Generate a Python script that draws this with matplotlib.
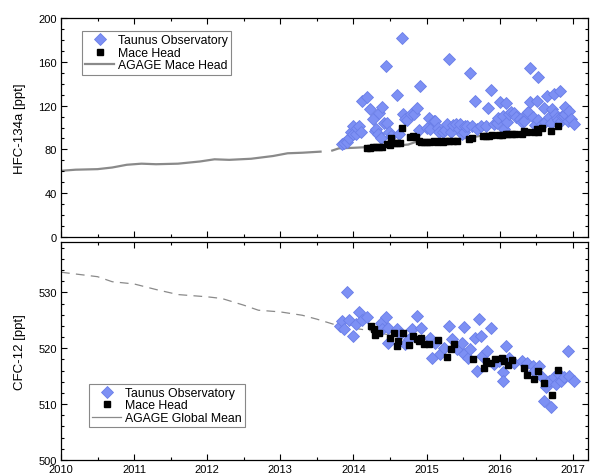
import matplotlib
matplotlib.use("Agg")
import matplotlib.pyplot as plt
from matplotlib.lines import Line2D
from matplotlib.ticker import MultipleLocator

plt.rcParams['font.family'] = ['Liberation Sans', 'DejaVu Sans']

# ---- HFC-134a ----
agage_mh_t1 = [2010.0, 2010.2, 2010.5, 2010.7, 2010.9, 2011.1, 2011.3, 2011.6, 2011.9,
               2012.1, 2012.3, 2012.6, 2012.9, 2013.1, 2013.3, 2013.55]
agage_mh_v1 = [60.5, 61.5, 62, 63.5, 66, 67, 66.5, 67, 69,
               71, 70.5, 71.5, 74, 76.5, 77, 78]
agage_mh_t2 = [2013.71, 2013.8, 2014.0, 2014.3, 2014.6, 2014.75, 2014.9, 2015.2,
               2015.5, 2015.75, 2016.0, 2016.2]
agage_mh_v2 = [79, 81, 81.5, 82.5, 83.5, 84.5, 88, 88.5, 90, 92.5, 93.5, 94.5]

taunus_hfc_t = [2013.85, 2013.87, 2013.91, 2013.94, 2013.96, 2014.0, 2014.0, 2014.03, 2014.05,
                2014.07, 2014.1, 2014.12, 2014.19, 2014.22, 2014.27, 2014.29, 2014.31, 2014.33,
                2014.35, 2014.37, 2014.39, 2014.42, 2014.45, 2014.46, 2014.48, 2014.52, 2014.59,
                2014.62, 2014.67, 2014.68, 2014.71, 2014.73, 2014.79, 2014.83, 2014.87, 2014.89,
                2014.91, 2015.0, 2015.04, 2015.05, 2015.1, 2015.12, 2015.15, 2015.17, 2015.22,
                2015.25, 2015.28, 2015.31, 2015.33, 2015.36, 2015.4, 2015.44, 2015.46, 2015.48,
                2015.51, 2015.53, 2015.55, 2015.6, 2015.62, 2015.66, 2015.69, 2015.75, 2015.81,
                2015.84, 2015.88, 2015.92, 2015.96, 2015.98, 2016.01, 2016.04, 2016.06, 2016.08,
                2016.1, 2016.13, 2016.15, 2016.2, 2016.22, 2016.28, 2016.31, 2016.33, 2016.37,
                2016.39, 2016.41, 2016.42, 2016.45, 2016.48, 2016.51, 2016.52, 2016.53, 2016.58,
                2016.6, 2016.62, 2016.65, 2016.68, 2016.7, 2016.72, 2016.74, 2016.76, 2016.79,
                2016.8, 2016.83, 2016.84, 2016.85, 2016.88, 2016.9, 2016.9, 2016.93, 2016.95,
                2016.97, 2017.02]
taunus_hfc = [85, 86, 86.5, 90, 95.6, 101.7, 94, 94, 100,
              101, 96, 124.5, 128, 117, 108, 97, 98.6, 94,
              113, 90, 118.4, 104, 156, 104, 95.6, 92.5, 130,
              94, 181.5, 112, 108, 107, 112, 112, 118, 97.7,
              137.6, 100, 109, 98.6, 106, 106, 100, 95.6, 95.6,
              98, 103, 163, 96, 102, 103, 99, 103, 94,
              95.6, 101, 101.7, 150, 101, 124, 98.6, 101, 101,
              117.5, 134.5, 103, 104, 109, 123, 111, 99, 122,
              105, 112, 114, 113, 110, 108, 105, 106, 113,
              114, 154, 123.6, 110, 102, 124.5, 146, 107, 103,
              118, 104.7, 128.5, 110, 104, 117, 130.6, 112, 109,
              107, 133.6, 106, 111, 111, 112, 119, 106, 115,
              108, 103]

mace_hfc_t = [2014.19, 2014.23, 2014.27, 2014.31, 2014.35, 2014.39,
              2014.46, 2014.5, 2014.51, 2014.55, 2014.6, 2014.64, 2014.67,
              2014.78, 2014.82, 2014.86, 2014.9,
              2014.93, 2014.97, 2015.01, 2015.05, 2015.1, 2015.14, 2015.19, 2015.23,
              2015.27, 2015.31, 2015.36, 2015.41,
              2015.58, 2015.62,
              2015.77, 2015.81, 2015.85, 2015.9,
              2015.99, 2016.03, 2016.08, 2016.12, 2016.17, 2016.21,
              2016.31, 2016.33, 2016.38, 2016.47, 2016.51, 2016.52, 2016.58, 2016.7, 2016.8]
mace_hfc = [81.5, 81.5, 82, 82, 82.5, 82.5,
            85, 84.5, 90, 85.5, 86, 86, 100,
            91, 92, 91, 88,
            87, 86.5, 87, 86.5, 87.5, 87, 87.5, 87,
            87.5, 88, 87.5, 88,
            89.5, 90.5,
            92, 92.5, 92.5, 93,
            93.5, 93.5, 94, 94, 94.5, 94.5,
            94, 97, 96, 96, 98.6, 95.5, 99.5, 96.5, 101.7]

# ---- CFC-12 ----
agage_gm_t = [2010.0, 2010.5, 2010.7, 2011.0, 2011.3, 2011.6, 2012.0, 2012.2, 2012.5,
              2012.7, 2013.0, 2013.3, 2013.5, 2013.8, 2014.0, 2014.3, 2014.5]
agage_gm = [533.6, 532.8, 531.9, 531.5, 530.5, 529.6, 529.2, 528.9, 527.7,
            526.8, 526.5, 525.9, 525.2, 524.0, 523.6, 523.0, 522.3]

taunus_cfc_t = [2013.82, 2013.85, 2013.87, 2013.91, 2013.94, 2014.0, 2014.03, 2014.07, 2014.12,
                2014.19, 2014.37, 2014.39, 2014.44, 2014.47, 2014.47, 2014.6, 2014.64, 2014.7,
                2014.76, 2014.8, 2014.87, 2014.92, 2015.05, 2015.08, 2015.12, 2015.19, 2015.24,
                2015.3, 2015.35, 2015.42, 2015.48, 2015.51, 2015.51, 2015.56, 2015.6, 2015.66,
                2015.69, 2015.72, 2015.74, 2015.76, 2015.83, 2015.88, 2015.92, 2015.99, 2016.04,
                2016.04, 2016.08, 2016.13, 2016.2, 2016.31, 2016.38, 2016.45, 2016.47, 2016.54,
                2016.58, 2016.61, 2016.63, 2016.67, 2016.7, 2016.74, 2016.77, 2016.81, 2016.84,
                2016.88, 2016.93, 2016.95, 2017.02]
taunus_cfc = [523.9, 524.9, 523.4, 530.1, 525, 522.2, 524.3, 526.4, 525,
              525.5, 524.6, 523.4, 525.6, 521, 523.7, 523.5, 522.5, 520.7,
              521.6, 523.4, 525.7, 523.7, 521.9, 518.3, 521, 518.9, 520.1,
              524, 521.6, 519.8, 521, 523.8, 518.9, 518.3, 519.8, 521.8,
              515.9, 525.2, 522.2, 518.6, 519.5, 523.7, 517.1, 517.7, 515.7,
              514.2, 520.4, 518.3, 517.4, 517.7, 517.4, 516.8, 515.9, 516.8,
              514.8, 510.6, 513, 514.2, 509.4, 514.8, 513.6, 515.4, 514.2,
              514.8, 519.5, 515.1, 514.2]

mace_cfc_t = [2014.24, 2014.28, 2014.29, 2014.35, 2014.5, 2014.55, 2014.61, 2014.6, 2014.68,
              2014.76, 2014.82, 2014.87, 2014.9, 2014.93, 2014.96, 2015.03, 2015.15, 2015.28,
              2015.33, 2015.38, 2015.64, 2015.79, 2015.81, 2015.88, 2015.93, 2016.03, 2016.06,
              2016.11, 2016.17, 2016.33, 2016.37, 2016.47, 2016.52, 2016.6, 2016.72, 2016.8]
mace_cfc = [523.9, 523.5, 522.3, 522.8, 521.8, 522.8, 521.3, 520.4, 522.7,
            520.5, 522.1, 521.7, 521.3, 521.9, 520.7, 520.8, 521.5, 518.4,
            519.8, 520.7, 518, 516.4, 517.7, 517.4, 518, 518.2, 517.7,
            517, 517.9, 516.4, 515.2, 514.5, 515.9, 513.8, 511.7, 516.1]

blue_fc = '#7d90f4'
blue_ec = '#6a7ee8'
line_gray = '#8a8a8a'

fig = plt.figure(figsize=(5.91, 4.77), dpi=100)
ax1 = fig.add_axes([0.1032, 0.501, 0.892, 0.459])
ax2 = fig.add_axes([0.1032, 0.0335, 0.892, 0.457])

ax1.plot(agage_mh_t1, agage_mh_v1, color=line_gray, lw=1.6, zorder=1)
ax1.plot(agage_mh_t2, agage_mh_v2, color=line_gray, lw=1.6, zorder=1)
ax1.plot(taunus_hfc_t, taunus_hfc, 'D', ms=6.6, mfc=blue_fc, mec=blue_ec, mew=0.6, zorder=2)
ax1.plot(mace_hfc_t, mace_hfc, 's', ms=5, color='black', zorder=3)

ax2.plot(agage_gm_t, agage_gm, color=line_gray, lw=0.9, dashes=(7, 5), zorder=1)
ax2.plot(taunus_cfc_t, taunus_cfc, 'D', ms=6.6, mfc=blue_fc, mec=blue_ec, mew=0.6, zorder=2)
ax2.plot(mace_cfc_t, mace_cfc, 's', ms=5, color='black', zorder=3)

ax1.set_ylim(0, 200)
ax2.set_ylim(500, 539)
for ax in (ax1, ax2):
    ax.set_xlim(2010, 2017.21)
    ax.xaxis.set_major_locator(MultipleLocator(1))
    ax.xaxis.set_minor_locator(MultipleLocator(0.5))
    ax.tick_params(which='both', direction='in', top=True, right=True, labelsize=8, pad=3)
    ax.tick_params(which='major', length=4.5, width=0.8)
    ax.tick_params(which='minor', length=2.5, width=0.8)
    for s in ax.spines.values():
        s.set_linewidth(0.9)
ax1.yaxis.set_major_locator(MultipleLocator(40))
ax1.yaxis.set_minor_locator(MultipleLocator(10))
ax1.tick_params(axis='x', labelbottom=False)
ax2.yaxis.set_major_locator(MultipleLocator(10))
ax2.yaxis.set_minor_locator(MultipleLocator(2))
ax2.set_xticks(range(2010, 2018))
ax2.set_xticklabels([str(y) for y in range(2010, 2018)])

ax1.set_ylabel('HFC-134a [ppt]', fontsize=9.5, labelpad=9)
ax2.set_ylabel('CFC-12 [ppt]', fontsize=9.5, labelpad=9)
fig.align_ylabels([ax1, ax2])

h_taunus = Line2D([], [], ls='none', marker='D', ms=6, mfc=blue_fc, mec=blue_ec, mew=0.6)
h_mace = Line2D([], [], ls='none', marker='s', ms=4.5, color='black')
h_mh = Line2D([], [], color=line_gray, lw=1.6)
h_gm = Line2D([], [], color=line_gray, lw=0.9)

leg_kw = dict(fontsize=8.8, frameon=True, fancybox=False, edgecolor='#888888',
              framealpha=1, borderpad=0.25, labelspacing=0.05, handlelength=2.4,
              handletextpad=0.3, borderaxespad=0)
l1 = ax1.legend([h_taunus, h_mace, h_mh], ['Taunus Observatory', 'Mace Head', 'AGAGE Mace Head'],
                loc='upper left', bbox_to_anchor=(0.04, 0.94), **leg_kw)
l2 = ax2.legend([h_taunus, h_mace, h_gm], ['Taunus Observatory', 'Mace Head', 'AGAGE Global Mean'],
                loc='upper left', bbox_to_anchor=(0.053, 0.35), **leg_kw)
for l in (l1, l2):
    l.get_frame().set_linewidth(0.8)

fig.savefig('out.png', dpi=100)
